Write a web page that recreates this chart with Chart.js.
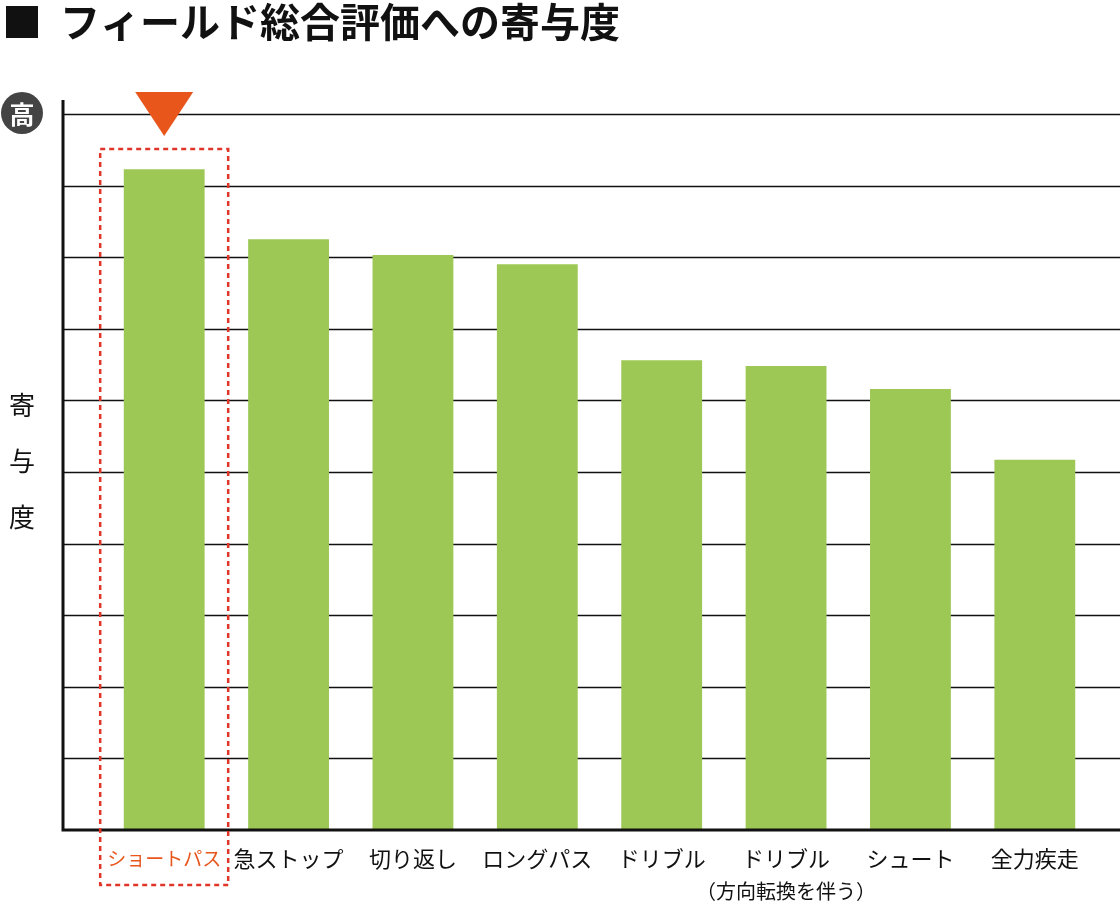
<!DOCTYPE html>
<html><head><meta charset="utf-8">
<script src="https://cdn.jsdelivr.net/npm/chart.js@4"></script>
<style>
html,body{margin:0;padding:0;background:#fff;}
#wrap{position:relative;width:1120px;height:912px;}
</style></head>
<body><div id="wrap"><canvas id="c" width="1120" height="912"></canvas></div>
<script>
// フィールド総合評価への寄与度
var categories = ["ショートパス", "急ストップ", "切り返し", "ロングパス", "ドリブル", ["ドリブル", "（方向転換を伴う）"], "シュート", "全力疾走"];
var values = [9.23, 8.25, 8.03, 7.9, 6.56, 6.48, 6.16, 5.17];
var yTicks = [0, 1, 2, 3, 4, 5, 6, 7, 8, 9, 10];

var FONT = '"Noto Sans CJK JP", "Noto Sans", sans-serif';
var ORANGE = "#e8561c";

var deco = {
    id: "deco",
    beforeDatasetsDraw: function (ch) {
        var ctx = ch.ctx, y = ch.scales.y;
        ctx.save();
        ctx.strokeStyle = "#111"; ctx.lineWidth = 1.3;
        yTicks.forEach(function (v) {
            if (v === 0) return;
            var py = Math.round(y.getPixelForValue(v)) + 0.5;
            ctx.beginPath(); ctx.moveTo(63, py); ctx.lineTo(1120, py); ctx.stroke();
        });
        ctx.restore();
    },
    afterDatasetsDraw: function (ch) {
        var ctx = ch.ctx, y = ch.scales.y, x = ch.scales.x;
        var y0 = y.getPixelForValue(0), yTop = y.getPixelForValue(10);
        ctx.save();
        ctx.strokeStyle = "#111"; ctx.lineWidth = 3;
        ctx.beginPath(); ctx.moveTo(63, yTop - 14); ctx.lineTo(63, y0); ctx.lineTo(1120, y0); ctx.stroke();
        // 項目ラベル
        ctx.textAlign = "center"; ctx.textBaseline = "middle";
        categories.forEach(function (c, i) {
            var px = x.getPixelForValue(i);
            var lines = Array.isArray(c) ? c : [c];
            ctx.fillStyle = i === 0 ? ORANGE : "#111";
            lines.forEach(function (t, j) {
                ctx.font = (i === 0 ? "19px " : j === 0 ? "22px " : "20px ") + FONT;
                ctx.fillText(t, px, 859 + j * 32);
            });
        });
        // 強調枠と三角
        var cx = x.getPixelForValue(0);
        ctx.strokeStyle = "#e0362a"; ctx.lineWidth = 2.5; ctx.setLineDash([5, 4]);
        ctx.strokeRect(cx - 64, 149, 128, 736);
        ctx.setLineDash([]);
        ctx.fillStyle = ORANGE;
        ctx.beginPath(); ctx.moveTo(cx - 29, 92); ctx.lineTo(cx + 29, 92); ctx.lineTo(cx, 136); ctx.closePath(); ctx.fill();
        // 「高」マーク
        ctx.fillStyle = "#444";
        ctx.beginPath(); ctx.arc(22, 113, 21, 0, Math.PI * 2); ctx.fill();
        ctx.fillStyle = "#fff"; ctx.font = "bold 25px " + FONT;
        ctx.fillText("高", 22, 114);
        // 縦軸タイトル
        ctx.fillStyle = "#111"; ctx.font = "26px " + FONT;
        ["寄", "与", "度"].forEach(function (t, i) { ctx.fillText(t, 22, 405 + i * 56); });
        // 見出し
        ctx.textAlign = "left"; ctx.font = "bold 40px " + FONT;
        ctx.fillRect(6, 6, 32, 32);
        ctx.fillText("フィールド総合評価への寄与度", 60, 22);
        ctx.restore();
    }
};

new Chart(document.getElementById("c").getContext("2d"), {
    type: "bar",
    data: {
        labels: categories,
        datasets: [{ data: values, backgroundColor: "#9dc855", borderWidth: 0,
                     barPercentage: 0.65, categoryPercentage: 1 }]
    },
    options: {
        responsive: false,
        animation: false,
        layout: { padding: { left: 102, right: 23, top: 114, bottom: 82 } },
        scales: {
            x: { display: false },
            y: { display: false, min: 0, max: 10 }
        },
        plugins: { legend: { display: false }, tooltip: { enabled: false } }
    },
    plugins: [deco]
});
</script>
</body></html>
